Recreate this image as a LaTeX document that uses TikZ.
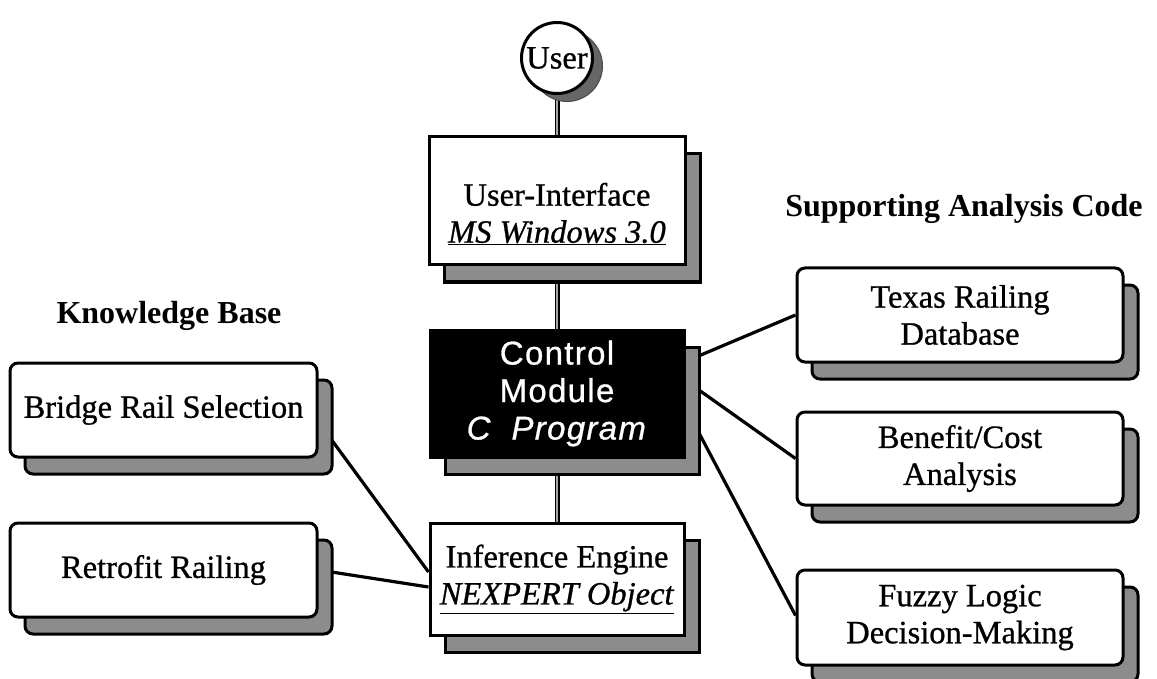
\documentclass[tikz,border=0pt]{standalone}
\usepackage{fontspec}
\setmainfont{Liberation Serif}[UprightFeatures={FakeBold=0.8},ItalicFeatures={FakeBold=0.8}]
\newfontfamily\ctrlfont{Liberation Sans}[UprightFeatures={FakeBold=0.8},ItalicFeatures={FakeBold=0.8},LetterSpace=4]
\usetikzlibrary{shadows,calc,backgrounds}
\begin{document}
\begin{tikzpicture}[x=1pt,y=-1pt,
  every node/.style={font=\fontsize{32.5}{37}\selectfont},
  shad/.style={drop shadow={shadow xshift=15pt, shadow yshift=-17pt, opacity=1, fill=black!45, draw=black, line width=3pt}},
  sqbox/.style={draw=black, line width=3pt, fill=white, inner sep=0pt, shad},
  rbox/.style={draw=black, line width=3pt, fill=white, rounded corners=8pt, inner sep=0pt, align=center, shad},
  head/.style={font=\bfseries\fontsize{32}{36}\selectfont},
  vconn/.style={draw=black, line width=1.9pt, double=black!35, double distance=1.2pt},
  conn/.style={draw=black, line width=3.2pt}
]
\useasboundingbox (0,0) rectangle (1157,679);

% centre column
\node[circle, draw=black, line width=3pt, fill=white, minimum size=71pt, inner sep=0pt,
      drop shadow={shadow xshift=10pt, shadow yshift=-8pt, opacity=1, fill=black!60, draw=black!70, line width=1pt}]
      (user) at (557,58) {User};
\node[sqbox, minimum width=256pt, minimum height=128pt] (ui) at (557,201) {};
\node[align=center] (uitext) at (557,214) {User-Interface\\\underline{\textit{MS Windows 3.0}}};
\node[sqbox, fill=black, text=white, align=center, minimum width=254pt, minimum height=127pt,
      font=\ctrlfont\fontsize{33}{37.5}\selectfont] (ctrl) at (557,393.5)
      {Control\\Module\\\textit{C\ \ Program}};
\node[sqbox, align=center, minimum width=254pt, minimum height=112pt] (inf) at (557,579)
      {Inference Engine\\\underline{\textit{NEXPERT Object}}};

% headings
\node[head] (kb) at (169,316) {Knowledge Base};
\node[head] (sac) at (964,209) {Supporting Analysis Code};

% knowledge base
\node[rbox, minimum width=307pt, minimum height=94pt] (bridge) at (163.5,410) {Bridge Rail Selection};
\node[rbox, minimum width=307pt, minimum height=94pt] (retro) at (163.5,570) {Retrofit Railing};

% supporting analysis code
\node[rbox, minimum width=326pt, minimum height=94pt] (texas) at (960,315) {Texas Railing\\Database};
\node[rbox, minimum width=326pt, minimum height=93pt] (benefit) at (960,458.5) {Benefit/Cost\\Analysis};
\node[rbox, minimum width=326pt, minimum height=95pt] (fuzzy) at (960,617.5) {Fuzzy Logic\\Decision-Making};

\begin{scope}[on background layer]
  \draw[vconn] (user) -- (ui);
  \draw[vconn] (ui) -- (ctrl);
  \draw[vconn] (ctrl) -- (inf);
  \draw[conn] ($(bridge.east)+(0,12)$) -- ($(inf.west)+(0,-7)$);
  \draw[conn] (retro.east) -- ($(inf.west)+(0,8)$);
  \draw[conn] ($(ctrl.east)+(0,-32)$) -- (texas.west);
  \draw[conn] ($(ctrl.east)+(0,-13)$) -- (benefit.west);
  \draw[conn] ($(ctrl.east)+(0,14)$) -- ($(fuzzy.west)+(0,-2)$);
\end{scope}
\end{tikzpicture}
\end{document}
